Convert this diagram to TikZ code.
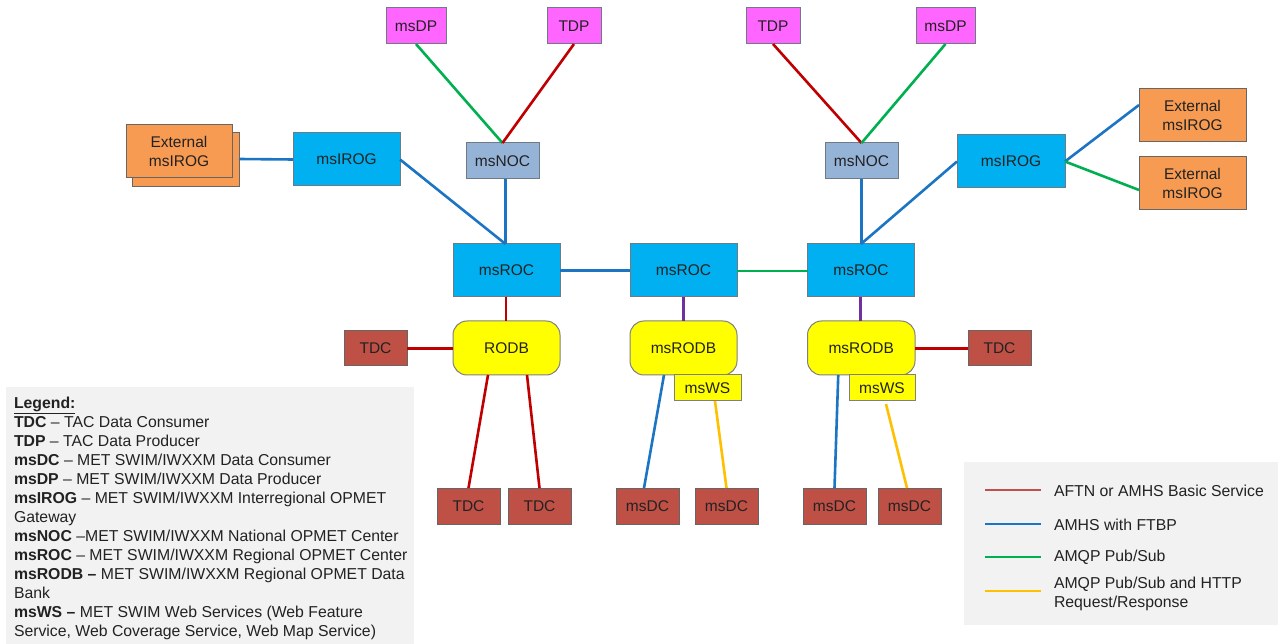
\documentclass[tikz,border=0pt]{standalone}
\usepackage{fontspec}
\setmainfont{Liberation Sans}
\definecolor{cblue}{HTML}{00B0F0}
\definecolor{cnoc}{HTML}{95B3D7}
\definecolor{cmag}{HTML}{FF66FF}
\definecolor{corg}{HTML}{F79B52}
\definecolor{cyel}{HTML}{FFFF00}
\definecolor{cbrn}{HTML}{BE5046}
\definecolor{lblue}{HTML}{1B75C4}
\definecolor{lgreen}{HTML}{00B050}
\definecolor{lred}{HTML}{C00000}
\definecolor{lpurp}{HTML}{7030A0}
\definecolor{lyel}{HTML}{FFC000}
\definecolor{lpale}{HTML}{C0504D}
\definecolor{cgray}{HTML}{F2F2F2}
\definecolor{cedge}{HTML}{6E7B85}
\definecolor{ctext}{HTML}{222222}
\tikzset{
  boxbase/.style={draw=cedge,line width=1pt,inner sep=0pt,outer sep=0pt,align=center,
    text=ctext,font=\fontsize{15.5}{19}\selectfont},
  bluebox/.style={boxbase,fill=cblue},
  nocbox/.style={boxbase,fill=cnoc},
  magbox/.style={boxbase,fill=cmag},
  orgbox/.style={boxbase,fill=corg,draw=gray!80!black},
  yelbox/.style={boxbase,fill=cyel,draw=gray},
  dbbox/.style={boxbase,fill=cyel,draw=gray,rounded corners=14pt},
  brnbox/.style={boxbase,fill=cbrn,draw=gray!80!black},
  link/.style={line width=2.6pt},
  blink/.style={link,draw=lblue},
  glink/.style={link,draw=lgreen},
  rlink/.style={link,draw=lred},
  plink/.style={link,draw=lpurp},
  ylink/.style={link,draw=lyel},
  keyline/.style={line width=2.6pt},
  legendtext/.style={inner sep=0pt,outer sep=0pt,anchor=north west,align=left,text=ctext,
    font=\fontsize{15.8}{19}\selectfont},
  keytext/.style={inner sep=0pt,outer sep=0pt,anchor=west,align=left,text=ctext,
    font=\fontsize{15.8}{19}\selectfont},
}
\newcommand{\bx}[7]{\node[#6,minimum width={(#4-#2)*1pt},minimum height={(#5-#3)*1pt}] (#1) at ({(#2+#4)/2},{(#3+#5)/2}) {#7};}
\begin{document}
\begin{tikzpicture}[x=1pt,y=-1pt]
\useasboundingbox (0,0) rectangle (1278,644);
\fill[white] (0,0) rectangle (1278,644);
% legend panels
\fill[cgray] (6,387) rectangle (414,644);
\fill[cgray] (964,462) rectangle (1278,625);
% boxes
\bx{dpa}{386}{8}{446}{44}{magbox}{msDP}
\bx{tpa}{547}{8}{601}{44}{magbox}{TDP}
\bx{tpb}{746}{8}{800}{44}{magbox}{TDP}
\bx{dpb}{916}{8}{975}{44}{magbox}{msDP}
\bx{extback}{132}{133}{239}{187}{orgbox}{}
\bx{extl}{126}{125}{232}{178}{orgbox}{External\\msIROG}
\bx{irogl}{293}{133}{400}{186}{bluebox}{msIROG}
\bx{nocl}{466}{143}{539}{179}{nocbox}{msNOC}
\bx{nocr}{825}{143}{898}{179}{nocbox}{msNOC}
\bx{irogr}{957}{135}{1065}{188}{bluebox}{msIROG}
\bx{extra}{1139}{89}{1246}{142}{orgbox}{External\\msIROG}
\bx{extrb}{1139}{157}{1246}{210}{orgbox}{External\\msIROG}
\bx{rocl}{453}{244}{560}{297}{bluebox}{msROC}
\bx{rocm}{630}{244}{737}{297}{bluebox}{msROC}
\bx{rocr}{807.5}{244}{914.5}{297}{bluebox}{msROC}
\bx{dbl}{453}{321}{560}{375}{dbbox}{RODB}
\bx{dbm}{630}{321}{737}{375}{dbbox}{msRODB}
\bx{dbr}{807.5}{321}{915}{375}{dbbox}{msRODB}
\bx{wsm}{674}{375}{741}{401}{yelbox}{msWS}
\bx{wsr}{849}{375}{915}{401}{yelbox}{msWS}
\bx{tcl}{344}{331}{407}{366}{brnbox}{TDC}
\bx{tcr}{968}{331}{1031}{366}{brnbox}{TDC}
\bx{tca}{437}{488}{500}{524}{brnbox}{TDC}
\bx{tcb}{508}{488}{571}{524}{brnbox}{TDC}
\bx{dca}{616}{488}{679}{524}{brnbox}{msDC}
\bx{dcb}{695}{488}{758}{524}{brnbox}{msDC}
\bx{dcc}{803}{488}{866}{524}{brnbox}{msDC}
\bx{dcd}{878}{488}{941}{524}{brnbox}{msDC}
% connectors
\draw[glink] (dpa.south) -- (nocl.north);
\draw[rlink] (tpa.south) -- (nocl.north);
\draw[rlink] (tpb.south) -- (nocr.north);
\draw[glink] (dpb.south) -- (nocr.north);
\draw[blink] (extback.east |- 0,159) -- (irogl.west);
\draw[blink] (irogl.east) -- ([xshift=-1pt]rocl.north);
\draw[blink] ([xshift=3pt]nocl.south) -- ([xshift=3pt]nocl.south |- rocl.north);
\draw[blink] (nocr.south) -- (rocr.north -| nocr.south);
\draw[blink] (irogr.west) -- (rocr.north);
\draw[blink] (irogr.east) -- ([yshift=10.5pt]extra.west);
\draw[glink] (irogr.east) -- ([yshift=-6.5pt]extrb.west);
\draw[blink] (rocl.east) -- (rocm.west);
\draw[glink] ([yshift=-0.5pt]rocm.east) -- ([yshift=-0.5pt]rocr.west);
\draw[rlink] ([xshift=-0.5pt]rocl.south) -- ([xshift=-0.5pt]dbl.north);
\draw[plink] (rocm.south) -- (dbm.north);
\draw[plink] ([xshift=-0.5pt]rocr.south) -- ([xshift=-0.5pt]rocr.south |- dbr.north);
\draw[rlink] (tcl.east) -- (tcl.east -| dbl.west);
\draw[rlink] (tcr.west) -- (tcr.west -| dbr.east);
\draw[rlink] ([xshift=-18.5pt]dbl.south) -- (tca.north);
\draw[rlink] ([xshift=20.5pt]dbl.south) -- (tcb.north);
\draw[blink] ([xshift=-19.5pt]dbm.south) -- ([xshift=-3.5pt]dca.north);
\draw[ylink] ([xshift=7.5pt]wsm.south) -- (dcb.north);
\draw[blink] ([xshift=-23pt]dbr.south) -- (dcc.north);
\coordinate (wsrgap) at (886,404);
\draw[ylink] (wsrgap) -- ([xshift=-2.5pt]dcd.north);
% legend text
\node[legendtext] (legend) at (14,397) {%
\underline{\textbf{Legend:}}\\
\textbf{TDC} -- TAC Data Consumer\\
\textbf{TDP} -- TAC Data Producer\\
\textbf{msDC} -- MET SWIM/IWXXM Data Consumer\\
\textbf{msDP} -- MET SWIM/IWXXM Data Producer\\
\textbf{msIROG} -- MET SWIM/IWXXM Interregional OPMET\\
Gateway\\
\textbf{msNOC} --MET SWIM/IWXXM National OPMET Center\\
\textbf{msROC} -- MET SWIM/IWXXM Regional OPMET Center\\
\textbf{msRODB --} MET SWIM/IWXXM Regional OPMET Data\\
Bank\\
\textbf{msWS --} MET SWIM Web Services (Web Feature\\
Service, Web Coverage Service, Web Map Service)};
% key
\coordinate (ka) at (985,490); \coordinate (kae) at (1041,490);
\coordinate (kb) at (985,524); \coordinate (kbe) at (1041,524);
\coordinate (kc) at (985,557); \coordinate (kce) at (1041,557);
\coordinate (kd) at (985,591); \coordinate (kde) at (1041,591);
\draw[keyline,draw=lpale] (ka) -- (kae);
\draw[keyline,draw=lblue] (kb) -- (kbe);
\draw[keyline,draw=lgreen] (kc) -- (kce);
\draw[keyline,draw=lyel] (kd) -- (kde);
\node[keytext] (ta) at (1054,490.5) {AFTN or AMHS Basic Service};
\node[keytext] (tb) at (1054,525) {AMHS with FTBP};
\node[keytext] (tc) at (1054,557.5) {AMQP Pub/Sub};
\node[keytext] (td) at (1054,594) {AMQP Pub/Sub and HTTP\\Request/Response};
\end{tikzpicture}
\end{document}
